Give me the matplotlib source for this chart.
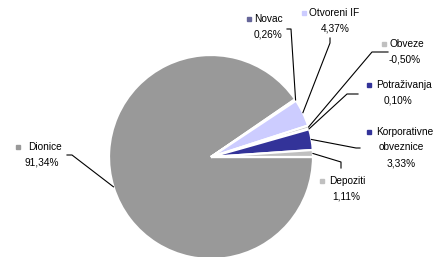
import numpy as np
import matplotlib
matplotlib.use("Agg")
import matplotlib.pyplot as plt

# Data (Excel order, drawn clockwise from 3 o'clock)
categories = ["Dionice", "Novac", "Otvoreni IF", "Obveze", "Potraživanja",
              "Korporativne\nobveznice", "Depoziti"]
values = [91.34, 0.26, 4.37, -0.50, 0.10, 3.33, 1.11]
pct_labels = ["91,34%", "0,26%", "4,37%", "-0,50%", "0,10%", "3,33%", "1,11%"]
colors = ["#999999", "#666699", "#CCCCFF", "#C0C0C0", "#333399", "#333399", "#C0C0C0"]

W, H = 439, 257
fig = plt.figure(figsize=(W / 100, H / 100), dpi=100)
ax = fig.add_axes([0, 0, 1, 1])
plt.rcParams['font.family'] = ['Liberation Sans', 'DejaVu Sans']

cx, cy, R = 211, H - 157, 102
sizes = [abs(v) for v in values]
explode = [0.0] + [0.025] * (len(values) - 1)
wedges, _ = ax.pie(sizes, colors=colors, startangle=0, counterclock=False,
                   center=(cx, cy), radius=R, explode=explode,
                   wedgeprops=dict(edgecolor="white", linewidth=1.6))
ax.set_xlim(0, W)
ax.set_ylim(0, H)
ax.set_aspect("equal")
ax.axis("off")

# label layout: (marker x, name-line y, name x start, pct center x, knee points)
layout = {
    "Dionice":      dict(mx=18, my=147, tx=28, pcx=42, knees=[(67, 155), (72, 155)], ang=-163),
    "Novac":        dict(mx=249, my=19, tx=254, pcx=268, knees=[(287, 29), (291, 29)]),
    "Otvoreni IF":  dict(mx=304, my=13, tx=309, pcx=335, knees=[(330, 38), (330, 43)]),
    "Obveze":       dict(mx=384, my=44, tx=390, pcx=405, knees=[(388, 52), (372, 52)]),
    "Potraživanja": dict(mx=369, my=85, tx=376, pcx=398, knees=[(358, 94), (347, 94)]),
    "Korporativne\nobveznice": dict(mx=369, my=132, tx=376, pcx=401, knees=[(360, 148), (356, 148)]),
    "Depoziti":     dict(mx=322, my=181, tx=329, pcx=346, knees=[(341, 168), (341, 162)]),
}

fs = 7.3
line_h = 15.5
for cat, pct, col, w in zip(categories, pct_labels, colors, wedges):
    L = layout[cat]
    lines = cat.split("\n")
    # marker
    ax.plot(L["mx"], H - L["my"], marker="s", ms=3.2, color=col, mec=col, lw=0)
    ax.text(L["tx"], H - L["my"], lines[0], ha="left", va="center", fontsize=fs, color="#000000")
    y = L["my"]
    for extra in lines[1:]:
        y += line_h
        ax.text(L["pcx"], H - y, extra, ha="center", va="center", fontsize=fs)
    y += line_h
    ax.text(L["pcx"], H - y, pct, ha="center", va="center", fontsize=fs)
    # leader line to wedge edge
    wcx, wcy = w.center
    if "ang" in L:
        a = np.deg2rad(L["ang"])
    else:
        a = np.deg2rad((w.theta1 + w.theta2) / 2)
    ex, ey = wcx + w.r * np.cos(a), wcy + w.r * np.sin(a)
    xs = [k[0] for k in L["knees"]] + [ex]
    ys = [H - k[1] for k in L["knees"]] + [ey]
    ax.plot(xs, ys, color="black", lw=0.8)

fig.savefig("out.png", dpi=100)
